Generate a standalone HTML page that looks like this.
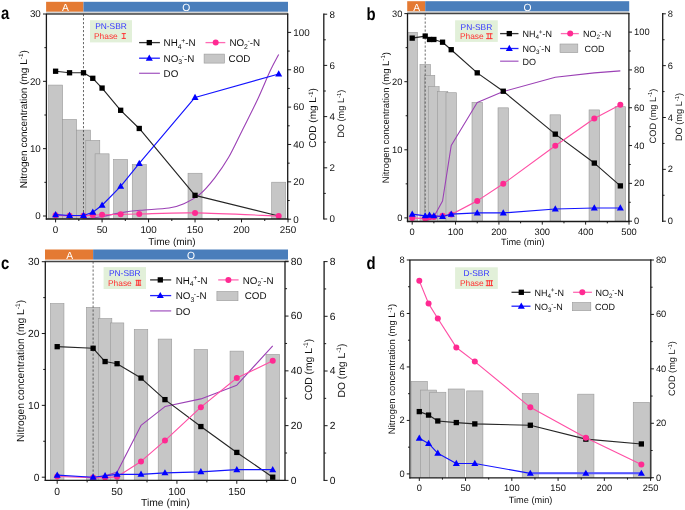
<!DOCTYPE html>
<html><head><meta charset="utf-8"><style>
html,body{margin:0;padding:0;background:#fff;width:685px;height:510px;overflow:hidden}
svg{display:block;will-change:transform;font-family:'Liberation Sans', sans-serif;text-rendering:geometricPrecision}
</style></head><body>
<svg width="685" height="510" viewBox="0 0 685 510">
<rect width="685" height="510" fill="#fff"/>
<clipPath id="clipa"><rect x="46.4" y="14" width="241.3" height="205"/></clipPath>
<rect x="46.1" y="1.8" width="37.39" height="10" fill="#E47A33" stroke="none" stroke-width="0"/>
<rect x="83.49" y="1.8" width="204.51" height="10" fill="#4A7EBB" stroke="none" stroke-width="0"/>
<rect x="46.1" y="11.8" width="241.9" height="2.2" fill="#d4d4d4" stroke="none" stroke-width="0"/>
<text x="65.34" y="11" font-size="10.3" text-anchor="middle" fill="#fff">A</text>
<text x="186.14" y="11" font-size="10.3" text-anchor="middle" fill="#fff">O</text>
<g clip-path="url(#clipa)">
<rect x="48.6" y="85.08" width="14" height="135.92" fill="#C6C6C6" stroke="#999999" stroke-width="0.6"/>
<rect x="62.54" y="119.45" width="14" height="101.55" fill="#C6C6C6" stroke="#999999" stroke-width="0.6"/>
<rect x="76.49" y="130.1" width="14" height="90.9" fill="#C6C6C6" stroke="#999999" stroke-width="0.6"/>
<rect x="85.78" y="140.37" width="14" height="80.63" fill="#C6C6C6" stroke="#999999" stroke-width="0.6"/>
<rect x="95.08" y="153.82" width="14" height="67.18" fill="#C6C6C6" stroke="#999999" stroke-width="0.6"/>
<rect x="113.67" y="159.42" width="14" height="61.58" fill="#C6C6C6" stroke="#999999" stroke-width="0.6"/>
<rect x="132.26" y="164.65" width="14" height="56.35" fill="#C6C6C6" stroke="#999999" stroke-width="0.6"/>
<rect x="188.04" y="173.25" width="14" height="47.75" fill="#C6C6C6" stroke="#999999" stroke-width="0.6"/>
<rect x="271.7" y="182.21" width="14" height="38.79" fill="#C6C6C6" stroke="#999999" stroke-width="0.6"/>
<line x1="83.49" y1="14" x2="83.49" y2="219" stroke="#444" stroke-width="0.8" stroke-dasharray="2.2,1.8"/>
<path d="M83.49 219 C86.59 218.57 95.73 217.51 102.08 216.44 C108.43 215.37 115.25 213.62 121.6 212.6 C127.95 211.58 132.29 211.06 140.19 210.3 C148.1 209.53 161.73 209.1 169.01 207.99 C176.29 206.88 178.77 205.9 183.88 203.64 C189 201.38 194.58 198.69 199.69 194.42 C204.8 190.16 209.76 184.18 214.56 178.04 C219.36 171.9 223.86 165.58 228.51 157.56 C233.15 149.54 237.65 139.51 242.45 129.91 C247.25 120.31 252.68 109.86 257.32 99.96 C261.97 90.06 266.77 78.11 270.34 70.52 C273.9 62.93 277.31 57.08 278.7 54.39" fill="none" stroke="#9B40B5" stroke-width="1.1"/>
<polyline points="55.6,71.23 69.54,72.78 83.49,72.78 92.78,78.3 102.08,88.07 120.67,110.29 139.26,128.47 195.04,195.33 278.7,216" fill="none" stroke="#262626" stroke-width="1.15" stroke-linejoin="round"/>
<rect x="52.95" y="68.58" width="5.3" height="5.3" fill="#000000" stroke="none" stroke-width="0"/>
<rect x="66.89" y="70.13" width="5.3" height="5.3" fill="#000000" stroke="none" stroke-width="0"/>
<rect x="80.84" y="70.13" width="5.3" height="5.3" fill="#000000" stroke="none" stroke-width="0"/>
<rect x="90.13" y="75.65" width="5.3" height="5.3" fill="#000000" stroke="none" stroke-width="0"/>
<rect x="99.43" y="85.42" width="5.3" height="5.3" fill="#000000" stroke="none" stroke-width="0"/>
<rect x="118.02" y="107.64" width="5.3" height="5.3" fill="#000000" stroke="none" stroke-width="0"/>
<rect x="136.61" y="125.82" width="5.3" height="5.3" fill="#000000" stroke="none" stroke-width="0"/>
<rect x="192.39" y="192.68" width="5.3" height="5.3" fill="#000000" stroke="none" stroke-width="0"/>
<path d="M55.6 215.33 C57.92 215.38 64.9 215.61 69.54 215.66 C74.19 215.72 79.61 215.75 83.49 215.66 C87.36 215.57 89.69 215.27 92.78 215.12 C95.88 214.98 97.43 214.92 102.08 214.79 C106.73 214.65 114.47 214.45 120.67 214.32 C126.87 214.18 126.87 214.22 139.26 213.98 C151.66 213.74 171.8 212.57 195.04 212.9 C218.28 213.24 264.76 215.48 278.7 216" fill="none" stroke="#FF4FA5" stroke-width="1.15"/>
<circle cx="55.6" cy="215.33" r="3" fill="#FF2A92"/>
<circle cx="69.54" cy="215.66" r="3" fill="#FF2A92"/>
<circle cx="83.49" cy="215.66" r="3" fill="#FF2A92"/>
<circle cx="92.78" cy="215.12" r="3" fill="#FF2A92"/>
<circle cx="102.08" cy="214.79" r="3" fill="#FF2A92"/>
<circle cx="120.67" cy="214.32" r="3" fill="#FF2A92"/>
<circle cx="139.26" cy="213.98" r="3" fill="#FF2A92"/>
<circle cx="195.04" cy="212.9" r="3" fill="#FF2A92"/>
<circle cx="278.7" cy="216" r="3" fill="#FF2A92"/>
<polyline points="55.6,214.65 69.54,215.46 83.49,215.46 92.78,212.3 102.08,205.23 120.67,186.37 139.26,163.48 195.04,97.49 278.7,73.93" fill="none" stroke="#1414FF" stroke-width="1.15" stroke-linejoin="round"/>
<path d="M55.6 210.93L59.1 217.13L52.1 217.13Z" fill="#0000FF"/>
<path d="M69.54 211.74L73.04 217.94L66.04 217.94Z" fill="#0000FF"/>
<path d="M83.49 211.74L86.99 217.94L79.99 217.94Z" fill="#0000FF"/>
<path d="M92.78 208.58L96.28 214.78L89.28 214.78Z" fill="#0000FF"/>
<path d="M102.08 201.51L105.58 207.71L98.58 207.71Z" fill="#0000FF"/>
<path d="M120.67 182.65L124.17 188.85L117.17 188.85Z" fill="#0000FF"/>
<path d="M139.26 159.76L142.76 165.96L135.76 165.96Z" fill="#0000FF"/>
<path d="M195.04 93.77L198.54 99.97L191.54 99.97Z" fill="#0000FF"/>
<path d="M278.7 70.21L282.2 76.41L275.2 76.41Z" fill="#0000FF"/>
</g>
<line x1="45.9" y1="14" x2="288.2" y2="14" stroke="#444" stroke-width="1.3"/>
<line x1="46.4" y1="14" x2="46.4" y2="219.6" stroke="#1a1a1a" stroke-width="1.3"/>
<line x1="45.8" y1="219" x2="288.3" y2="219" stroke="#1a1a1a" stroke-width="1.3"/>
<line x1="287.7" y1="13.4" x2="287.7" y2="219.6" stroke="#1a1a1a" stroke-width="1.3"/>
<line x1="55.6" y1="219" x2="55.6" y2="222.4" stroke="#1a1a1a" stroke-width="1"/>
<text x="55.6" y="233.1" font-size="9.8" text-anchor="middle" fill="#111">0</text>
<line x1="102.08" y1="219" x2="102.08" y2="222.4" stroke="#1a1a1a" stroke-width="1"/>
<text x="102.08" y="233.1" font-size="9.8" text-anchor="middle" fill="#111">50</text>
<line x1="148.56" y1="219" x2="148.56" y2="222.4" stroke="#1a1a1a" stroke-width="1"/>
<text x="148.56" y="233.1" font-size="9.8" text-anchor="middle" fill="#111">100</text>
<line x1="195.04" y1="219" x2="195.04" y2="222.4" stroke="#1a1a1a" stroke-width="1"/>
<text x="195.04" y="233.1" font-size="9.8" text-anchor="middle" fill="#111">150</text>
<line x1="241.52" y1="219" x2="241.52" y2="222.4" stroke="#1a1a1a" stroke-width="1"/>
<text x="241.52" y="233.1" font-size="9.8" text-anchor="middle" fill="#111">200</text>
<line x1="288" y1="219" x2="288" y2="222.4" stroke="#1a1a1a" stroke-width="1"/>
<text x="288" y="233.1" font-size="9.8" text-anchor="middle" fill="#111">250</text>
<line x1="78.84" y1="219" x2="78.84" y2="221" stroke="#1a1a1a" stroke-width="1"/>
<line x1="125.32" y1="219" x2="125.32" y2="221" stroke="#1a1a1a" stroke-width="1"/>
<line x1="171.8" y1="219" x2="171.8" y2="221" stroke="#1a1a1a" stroke-width="1"/>
<line x1="218.28" y1="219" x2="218.28" y2="221" stroke="#1a1a1a" stroke-width="1"/>
<line x1="264.76" y1="219" x2="264.76" y2="221" stroke="#1a1a1a" stroke-width="1"/>
<line x1="43" y1="216" x2="46.4" y2="216" stroke="#1a1a1a" stroke-width="1"/>
<text x="40.8" y="219.3" font-size="9.8" text-anchor="end" fill="#111">0</text>
<line x1="43" y1="148.67" x2="46.4" y2="148.67" stroke="#1a1a1a" stroke-width="1"/>
<text x="40.8" y="151.97" font-size="9.8" text-anchor="end" fill="#111">10</text>
<line x1="43" y1="81.33" x2="46.4" y2="81.33" stroke="#1a1a1a" stroke-width="1"/>
<text x="40.8" y="84.63" font-size="9.8" text-anchor="end" fill="#111">20</text>
<line x1="43" y1="14" x2="46.4" y2="14" stroke="#1a1a1a" stroke-width="1"/>
<text x="40.8" y="17.3" font-size="9.8" text-anchor="end" fill="#111">30</text>
<line x1="44.4" y1="182.33" x2="46.4" y2="182.33" stroke="#1a1a1a" stroke-width="1"/>
<line x1="44.4" y1="115" x2="46.4" y2="115" stroke="#1a1a1a" stroke-width="1"/>
<line x1="44.4" y1="47.67" x2="46.4" y2="47.67" stroke="#1a1a1a" stroke-width="1"/>
<line x1="287.7" y1="219.2" x2="291.1" y2="219.2" stroke="#1a1a1a" stroke-width="1"/>
<text x="293.3" y="222.5" font-size="9.8" text-anchor="start" fill="#111">0</text>
<line x1="287.7" y1="181.84" x2="291.1" y2="181.84" stroke="#1a1a1a" stroke-width="1"/>
<text x="293.3" y="185.14" font-size="9.8" text-anchor="start" fill="#111">20</text>
<line x1="287.7" y1="144.48" x2="291.1" y2="144.48" stroke="#1a1a1a" stroke-width="1"/>
<text x="293.3" y="147.78" font-size="9.8" text-anchor="start" fill="#111">40</text>
<line x1="287.7" y1="107.12" x2="291.1" y2="107.12" stroke="#1a1a1a" stroke-width="1"/>
<text x="293.3" y="110.42" font-size="9.8" text-anchor="start" fill="#111">60</text>
<line x1="287.7" y1="69.76" x2="291.1" y2="69.76" stroke="#1a1a1a" stroke-width="1"/>
<text x="293.3" y="73.06" font-size="9.8" text-anchor="start" fill="#111">80</text>
<line x1="287.7" y1="32.4" x2="291.1" y2="32.4" stroke="#1a1a1a" stroke-width="1"/>
<text x="293.3" y="35.7" font-size="9.8" text-anchor="start" fill="#111">100</text>
<line x1="287.7" y1="200.52" x2="289.7" y2="200.52" stroke="#1a1a1a" stroke-width="1"/>
<line x1="287.7" y1="163.16" x2="289.7" y2="163.16" stroke="#1a1a1a" stroke-width="1"/>
<line x1="287.7" y1="125.8" x2="289.7" y2="125.8" stroke="#1a1a1a" stroke-width="1"/>
<line x1="287.7" y1="88.44" x2="289.7" y2="88.44" stroke="#1a1a1a" stroke-width="1"/>
<line x1="287.7" y1="51.08" x2="289.7" y2="51.08" stroke="#1a1a1a" stroke-width="1"/>
<line x1="323.8" y1="13.4" x2="323.8" y2="219.6" stroke="#1a1a1a" stroke-width="1.3"/>
<line x1="323.8" y1="219" x2="327.2" y2="219" stroke="#1a1a1a" stroke-width="1"/>
<text x="329.4" y="222.3" font-size="9.8" text-anchor="start" fill="#111">0</text>
<line x1="323.8" y1="167.8" x2="327.2" y2="167.8" stroke="#1a1a1a" stroke-width="1"/>
<text x="329.4" y="171.1" font-size="9.8" text-anchor="start" fill="#111">2</text>
<line x1="323.8" y1="116.6" x2="327.2" y2="116.6" stroke="#1a1a1a" stroke-width="1"/>
<text x="329.4" y="119.9" font-size="9.8" text-anchor="start" fill="#111">4</text>
<line x1="323.8" y1="65.4" x2="327.2" y2="65.4" stroke="#1a1a1a" stroke-width="1"/>
<text x="329.4" y="68.7" font-size="9.8" text-anchor="start" fill="#111">6</text>
<line x1="323.8" y1="14.2" x2="327.2" y2="14.2" stroke="#1a1a1a" stroke-width="1"/>
<text x="329.4" y="17.5" font-size="9.8" text-anchor="start" fill="#111">8</text>
<line x1="323.8" y1="193.4" x2="325.8" y2="193.4" stroke="#1a1a1a" stroke-width="1"/>
<line x1="323.8" y1="142.2" x2="325.8" y2="142.2" stroke="#1a1a1a" stroke-width="1"/>
<line x1="323.8" y1="91" x2="325.8" y2="91" stroke="#1a1a1a" stroke-width="1"/>
<line x1="323.8" y1="39.8" x2="325.8" y2="39.8" stroke="#1a1a1a" stroke-width="1"/>
<text x="344.2" y="113.7" font-size="9.2" text-anchor="middle" fill="#111" transform="rotate(-90 344.2 113.7)">DO (mg L<tspan font-size="5.89" dy="-3.5">-1</tspan><tspan dy="3.5">)</tspan></text>
<text x="27.2" y="119.2" font-size="10" text-anchor="middle" fill="#111" transform="rotate(-90 27.2 119.2)">Nitrogen concentration (mg L<tspan font-size="6.4" dy="-3.8">-1</tspan><tspan dy="3.8">)</tspan></text>
<text x="316.5" y="117.9" font-size="10" text-anchor="middle" fill="#111" transform="rotate(-90 316.5 117.9)">COD (mg L<tspan font-size="6.4" dy="-3.8">-1</tspan><tspan dy="3.8">)</tspan></text>
<text x="172" y="244.8" font-size="10" text-anchor="middle" fill="#111">Time (min)</text>
<text transform="translate(0.9 19.3) scale(0.93 1.1)" x="0" y="0" font-size="16" font-weight="bold" fill="#000">a</text>
<rect x="90" y="20.2" width="42" height="22.2" fill="#E2F0D9" stroke="none" stroke-width="0"/>
<text x="111" y="29.3" font-size="8.4" text-anchor="middle" fill="#3333FF">PN-SBR</text>
<text x="94" y="38.9" font-size="8.4" text-anchor="start" fill="#FF3333">Phase</text>
<g stroke="#FF3333" stroke-width="0.95" fill="none">
<line x1="121.7" y1="33.58" x2="125.9" y2="33.58"/>
<line x1="121.7" y1="38.42" x2="125.9" y2="38.42"/>
<line x1="123.8" y1="33.1" x2="123.8" y2="38.9"/>
</g>
<line x1="139.1" y1="42.6" x2="159.9" y2="42.6" stroke="#333" stroke-width="1.3"/>
<rect x="146.65" y="39.95" width="5.3" height="5.3" fill="#000000" stroke="none" stroke-width="0"/>
<text x="163.6" y="46.3" font-size="9.8" text-anchor="start" fill="#111">NH<tspan font-size="6.86" dy="2.35">4</tspan><tspan font-size="6.86" dx="-0.39" dy="-6.08">+</tspan><tspan dy="3.72">-N</tspan></text>
<line x1="139.1" y1="58.2" x2="159.9" y2="58.2" stroke="#2020FF" stroke-width="1.3"/>
<path d="M149.3 54.48L152.8 60.68L145.8 60.68Z" fill="#0000FF"/>
<text x="163.6" y="61.9" font-size="9.8" text-anchor="start" fill="#111">NO<tspan font-size="6.86" dy="2.35">3</tspan><tspan font-size="6.86" dx="-0.39" dy="-6.08">-</tspan><tspan dy="3.72">-N</tspan></text>
<line x1="139.1" y1="73.3" x2="159.9" y2="73.3" stroke="#A860C4" stroke-width="1.3"/>
<text x="163.6" y="77" font-size="9.8" text-anchor="start" fill="#111">DO</text>
<line x1="205.5" y1="42.6" x2="225.3" y2="42.6" stroke="#FF6AB4" stroke-width="1.3"/>
<circle cx="215.7" cy="42.6" r="3" fill="#FF2A92"/>
<text x="229.4" y="46.3" font-size="9.8" text-anchor="start" fill="#111">NO<tspan font-size="6.86" dy="2.35">2</tspan><tspan font-size="6.86" dx="-0.39" dy="-6.08">-</tspan><tspan dy="3.72">-N</tspan></text>
<rect x="204.1" y="54.1" width="20.4" height="9" fill="#C6C6C6" stroke="#999999" stroke-width="0.6"/>
<text x="228.6" y="61.9" font-size="9.8" text-anchor="start" fill="#111">COD</text>
<clipPath id="clipb"><rect x="407.5" y="13.5" width="221.4" height="208"/></clipPath>
<rect x="407.2" y="1.2" width="18.01" height="10.3" fill="#E47A33" stroke="none" stroke-width="0"/>
<rect x="425.21" y="1.2" width="203.99" height="10.3" fill="#4A7EBB" stroke="none" stroke-width="0"/>
<rect x="407.2" y="11.5" width="222" height="2" fill="#d4d4d4" stroke="none" stroke-width="0"/>
<text x="416.75" y="10.7" font-size="10.3" text-anchor="middle" fill="#fff">A</text>
<text x="527.6" y="10.7" font-size="10.3" text-anchor="middle" fill="#fff">O</text>
<g clip-path="url(#clipb)">
<rect x="406.95" y="32.38" width="10.5" height="191.12" fill="#C6C6C6" stroke="#999999" stroke-width="0.6"/>
<rect x="419.96" y="64.53" width="10.5" height="158.97" fill="#C6C6C6" stroke="#999999" stroke-width="0.6"/>
<rect x="424.29" y="75.31" width="10.5" height="148.19" fill="#C6C6C6" stroke="#999999" stroke-width="0.6"/>
<rect x="428.63" y="86.66" width="10.5" height="136.84" fill="#C6C6C6" stroke="#999999" stroke-width="0.6"/>
<rect x="437.3" y="91.57" width="10.5" height="131.93" fill="#C6C6C6" stroke="#999999" stroke-width="0.6"/>
<rect x="445.97" y="92.71" width="10.5" height="130.79" fill="#C6C6C6" stroke="#999999" stroke-width="0.6"/>
<rect x="471.99" y="102.35" width="10.5" height="121.15" fill="#C6C6C6" stroke="#999999" stroke-width="0.6"/>
<rect x="498.01" y="107.83" width="10.5" height="115.67" fill="#C6C6C6" stroke="#999999" stroke-width="0.6"/>
<rect x="550.04" y="114.83" width="10.5" height="108.67" fill="#C6C6C6" stroke="#999999" stroke-width="0.6"/>
<rect x="589.06" y="109.91" width="10.5" height="113.59" fill="#C6C6C6" stroke="#999999" stroke-width="0.6"/>
<rect x="615.08" y="106.7" width="10.5" height="116.8" fill="#C6C6C6" stroke="#999999" stroke-width="0.6"/>
<line x1="425.21" y1="13.5" x2="425.21" y2="221.5" stroke="#444" stroke-width="0.8" stroke-dasharray="2.2,1.8"/>
<polyline points="425.21,221.2 433.88,216.79 442.55,200.98 451.22,145.5 477.24,102.46 503.26,91.57 555.29,77.32 594.31,72.91 620.33,70.84" fill="none" stroke="#9B40B5" stroke-width="1.1" stroke-linejoin="round"/>
<polyline points="412.2,38.12 425.21,36.07 429.54,39.48 433.88,39.48 442.55,42.2 451.22,49.69 477.24,72.85 503.26,91.23 555.29,134.14 594.31,163.08 620.33,185.89" fill="none" stroke="#262626" stroke-width="1.15" stroke-linejoin="round"/>
<rect x="409.55" y="35.47" width="5.3" height="5.3" fill="#000000" stroke="none" stroke-width="0"/>
<rect x="422.56" y="33.42" width="5.3" height="5.3" fill="#000000" stroke="none" stroke-width="0"/>
<rect x="426.89" y="36.83" width="5.3" height="5.3" fill="#000000" stroke="none" stroke-width="0"/>
<rect x="431.23" y="36.83" width="5.3" height="5.3" fill="#000000" stroke="none" stroke-width="0"/>
<rect x="439.9" y="39.55" width="5.3" height="5.3" fill="#000000" stroke="none" stroke-width="0"/>
<rect x="448.57" y="47.04" width="5.3" height="5.3" fill="#000000" stroke="none" stroke-width="0"/>
<rect x="474.59" y="70.2" width="5.3" height="5.3" fill="#000000" stroke="none" stroke-width="0"/>
<rect x="500.61" y="88.58" width="5.3" height="5.3" fill="#000000" stroke="none" stroke-width="0"/>
<rect x="552.64" y="131.49" width="5.3" height="5.3" fill="#000000" stroke="none" stroke-width="0"/>
<rect x="591.66" y="160.43" width="5.3" height="5.3" fill="#000000" stroke="none" stroke-width="0"/>
<rect x="617.68" y="183.24" width="5.3" height="5.3" fill="#000000" stroke="none" stroke-width="0"/>
<polyline points="412.2,217.9 425.21,218.58 429.54,217.22 433.88,217.01 442.55,215.86 451.22,214.5 477.24,200.88 503.26,183.85 555.29,145.71 594.31,118.47 620.33,104.85" fill="none" stroke="#FF4FA5" stroke-width="1.15" stroke-linejoin="round"/>
<circle cx="412.2" cy="217.9" r="3" fill="#FF2A92"/>
<circle cx="425.21" cy="218.58" r="3" fill="#FF2A92"/>
<circle cx="429.54" cy="217.22" r="3" fill="#FF2A92"/>
<circle cx="433.88" cy="217.01" r="3" fill="#FF2A92"/>
<circle cx="442.55" cy="215.86" r="3" fill="#FF2A92"/>
<circle cx="451.22" cy="214.5" r="3" fill="#FF2A92"/>
<circle cx="477.24" cy="200.88" r="3" fill="#FF2A92"/>
<circle cx="503.26" cy="183.85" r="3" fill="#FF2A92"/>
<circle cx="555.29" cy="145.71" r="3" fill="#FF2A92"/>
<circle cx="594.31" cy="118.47" r="3" fill="#FF2A92"/>
<circle cx="620.33" cy="104.85" r="3" fill="#FF2A92"/>
<polyline points="412.2,214.15 425.21,215.86 429.54,215.18 433.88,215.86 442.55,216.54 451.22,214.15 477.24,212.93 503.26,212.93 555.29,209.05 594.31,208.03 620.33,208.03" fill="none" stroke="#1414FF" stroke-width="1.15" stroke-linejoin="round"/>
<path d="M412.2 210.43L415.7 216.63L408.7 216.63Z" fill="#0000FF"/>
<path d="M425.21 212.14L428.71 218.34L421.71 218.34Z" fill="#0000FF"/>
<path d="M429.54 211.46L433.04 217.66L426.04 217.66Z" fill="#0000FF"/>
<path d="M433.88 212.14L437.38 218.34L430.38 218.34Z" fill="#0000FF"/>
<path d="M442.55 212.82L446.05 219.02L439.05 219.02Z" fill="#0000FF"/>
<path d="M451.22 210.43L454.72 216.63L447.72 216.63Z" fill="#0000FF"/>
<path d="M477.24 209.21L480.74 215.41L473.74 215.41Z" fill="#0000FF"/>
<path d="M503.26 209.21L506.76 215.41L499.76 215.41Z" fill="#0000FF"/>
<path d="M555.29 205.33L558.79 211.53L551.79 211.53Z" fill="#0000FF"/>
<path d="M594.31 204.31L597.81 210.51L590.81 210.51Z" fill="#0000FF"/>
<path d="M620.33 204.31L623.83 210.51L616.83 210.51Z" fill="#0000FF"/>
</g>
<line x1="407" y1="13.5" x2="629.4" y2="13.5" stroke="#444" stroke-width="1.3"/>
<line x1="407.5" y1="13.5" x2="407.5" y2="222.1" stroke="#1a1a1a" stroke-width="1.3"/>
<line x1="406.9" y1="221.5" x2="629.5" y2="221.5" stroke="#1a1a1a" stroke-width="1.3"/>
<line x1="628.9" y1="12.9" x2="628.9" y2="222.1" stroke="#1a1a1a" stroke-width="1.3"/>
<line x1="412.2" y1="221.5" x2="412.2" y2="224.63" stroke="#1a1a1a" stroke-width="1"/>
<text x="412.2" y="234.8" font-size="9.3" text-anchor="middle" fill="#111">0</text>
<line x1="455.56" y1="221.5" x2="455.56" y2="224.63" stroke="#1a1a1a" stroke-width="1"/>
<text x="455.56" y="234.8" font-size="9.3" text-anchor="middle" fill="#111">100</text>
<line x1="498.92" y1="221.5" x2="498.92" y2="224.63" stroke="#1a1a1a" stroke-width="1"/>
<text x="498.92" y="234.8" font-size="9.3" text-anchor="middle" fill="#111">200</text>
<line x1="542.28" y1="221.5" x2="542.28" y2="224.63" stroke="#1a1a1a" stroke-width="1"/>
<text x="542.28" y="234.8" font-size="9.3" text-anchor="middle" fill="#111">300</text>
<line x1="585.64" y1="221.5" x2="585.64" y2="224.63" stroke="#1a1a1a" stroke-width="1"/>
<text x="585.64" y="234.8" font-size="9.3" text-anchor="middle" fill="#111">400</text>
<line x1="629" y1="221.5" x2="629" y2="224.63" stroke="#1a1a1a" stroke-width="1"/>
<text x="629" y="234.8" font-size="9.3" text-anchor="middle" fill="#111">500</text>
<line x1="433.88" y1="221.5" x2="433.88" y2="223.34" stroke="#1a1a1a" stroke-width="1"/>
<line x1="477.24" y1="221.5" x2="477.24" y2="223.34" stroke="#1a1a1a" stroke-width="1"/>
<line x1="520.6" y1="221.5" x2="520.6" y2="223.34" stroke="#1a1a1a" stroke-width="1"/>
<line x1="563.96" y1="221.5" x2="563.96" y2="223.34" stroke="#1a1a1a" stroke-width="1"/>
<line x1="607.32" y1="221.5" x2="607.32" y2="223.34" stroke="#1a1a1a" stroke-width="1"/>
<line x1="404.37" y1="217.9" x2="407.5" y2="217.9" stroke="#1a1a1a" stroke-width="1"/>
<text x="402.35" y="220.94" font-size="9.3" text-anchor="end" fill="#111">0</text>
<line x1="404.37" y1="149.8" x2="407.5" y2="149.8" stroke="#1a1a1a" stroke-width="1"/>
<text x="402.35" y="152.84" font-size="9.3" text-anchor="end" fill="#111">10</text>
<line x1="404.37" y1="81.7" x2="407.5" y2="81.7" stroke="#1a1a1a" stroke-width="1"/>
<text x="402.35" y="84.74" font-size="9.3" text-anchor="end" fill="#111">20</text>
<line x1="404.37" y1="13.6" x2="407.5" y2="13.6" stroke="#1a1a1a" stroke-width="1"/>
<text x="402.35" y="16.64" font-size="9.3" text-anchor="end" fill="#111">30</text>
<line x1="405.66" y1="183.85" x2="407.5" y2="183.85" stroke="#1a1a1a" stroke-width="1"/>
<line x1="405.66" y1="115.75" x2="407.5" y2="115.75" stroke="#1a1a1a" stroke-width="1"/>
<line x1="405.66" y1="47.65" x2="407.5" y2="47.65" stroke="#1a1a1a" stroke-width="1"/>
<line x1="628.9" y1="221.2" x2="632.03" y2="221.2" stroke="#1a1a1a" stroke-width="1"/>
<text x="634.05" y="224.24" font-size="9.3" text-anchor="start" fill="#111">0</text>
<line x1="628.9" y1="183.38" x2="632.03" y2="183.38" stroke="#1a1a1a" stroke-width="1"/>
<text x="634.05" y="186.42" font-size="9.3" text-anchor="start" fill="#111">20</text>
<line x1="628.9" y1="145.56" x2="632.03" y2="145.56" stroke="#1a1a1a" stroke-width="1"/>
<text x="634.05" y="148.6" font-size="9.3" text-anchor="start" fill="#111">40</text>
<line x1="628.9" y1="107.74" x2="632.03" y2="107.74" stroke="#1a1a1a" stroke-width="1"/>
<text x="634.05" y="110.78" font-size="9.3" text-anchor="start" fill="#111">60</text>
<line x1="628.9" y1="69.92" x2="632.03" y2="69.92" stroke="#1a1a1a" stroke-width="1"/>
<text x="634.05" y="72.96" font-size="9.3" text-anchor="start" fill="#111">80</text>
<line x1="628.9" y1="32.1" x2="632.03" y2="32.1" stroke="#1a1a1a" stroke-width="1"/>
<text x="634.05" y="35.14" font-size="9.3" text-anchor="start" fill="#111">100</text>
<line x1="628.9" y1="202.29" x2="630.74" y2="202.29" stroke="#1a1a1a" stroke-width="1"/>
<line x1="628.9" y1="164.47" x2="630.74" y2="164.47" stroke="#1a1a1a" stroke-width="1"/>
<line x1="628.9" y1="126.65" x2="630.74" y2="126.65" stroke="#1a1a1a" stroke-width="1"/>
<line x1="628.9" y1="88.83" x2="630.74" y2="88.83" stroke="#1a1a1a" stroke-width="1"/>
<line x1="628.9" y1="51.01" x2="630.74" y2="51.01" stroke="#1a1a1a" stroke-width="1"/>
<line x1="662.7" y1="12.9" x2="662.7" y2="222.1" stroke="#1a1a1a" stroke-width="1.3"/>
<line x1="662.7" y1="221.2" x2="665.83" y2="221.2" stroke="#1a1a1a" stroke-width="1"/>
<text x="667.85" y="224.24" font-size="9.3" text-anchor="start" fill="#111">0</text>
<line x1="662.7" y1="169.35" x2="665.83" y2="169.35" stroke="#1a1a1a" stroke-width="1"/>
<text x="667.85" y="172.39" font-size="9.3" text-anchor="start" fill="#111">2</text>
<line x1="662.7" y1="117.5" x2="665.83" y2="117.5" stroke="#1a1a1a" stroke-width="1"/>
<text x="667.85" y="120.54" font-size="9.3" text-anchor="start" fill="#111">4</text>
<line x1="662.7" y1="65.65" x2="665.83" y2="65.65" stroke="#1a1a1a" stroke-width="1"/>
<text x="667.85" y="68.69" font-size="9.3" text-anchor="start" fill="#111">6</text>
<line x1="662.7" y1="13.8" x2="665.83" y2="13.8" stroke="#1a1a1a" stroke-width="1"/>
<text x="667.85" y="16.84" font-size="9.3" text-anchor="start" fill="#111">8</text>
<line x1="662.7" y1="195.27" x2="664.54" y2="195.27" stroke="#1a1a1a" stroke-width="1"/>
<line x1="662.7" y1="143.43" x2="664.54" y2="143.43" stroke="#1a1a1a" stroke-width="1"/>
<line x1="662.7" y1="91.57" x2="664.54" y2="91.57" stroke="#1a1a1a" stroke-width="1"/>
<line x1="662.7" y1="39.73" x2="664.54" y2="39.73" stroke="#1a1a1a" stroke-width="1"/>
<text x="682" y="117" font-size="9.2" text-anchor="middle" fill="#111" transform="rotate(-90 682 117)">DO (mg L<tspan font-size="5.89" dy="-3.5">-1</tspan><tspan dy="3.5">)</tspan></text>
<text x="388.8" y="117.6" font-size="9.5" text-anchor="middle" fill="#111" transform="rotate(-90 388.8 117.6)">Nitrogen concentration (mg L<tspan font-size="6.08" dy="-3.61">-1</tspan><tspan dy="3.61">)</tspan></text>
<text x="655.6" y="116" font-size="9.2" text-anchor="middle" fill="#111" transform="rotate(-90 655.6 116)">COD (mg L<tspan font-size="5.89" dy="-3.5">-1</tspan><tspan dy="3.5">)</tspan></text>
<text x="522.9" y="244.9" font-size="9.2" text-anchor="middle" fill="#111">Time (min)</text>
<text transform="translate(366.4 19.5) scale(0.93 1.1)" x="0" y="0" font-size="16" font-weight="bold" fill="#000">b</text>
<rect x="455.1" y="20.3" width="42.7" height="21.6" fill="#E2F0D9" stroke="none" stroke-width="0"/>
<text x="476.45" y="29.6" font-size="8.4" text-anchor="middle" fill="#3333FF">PN-SBR</text>
<text x="459.9" y="39.1" font-size="8.4" text-anchor="start" fill="#FF3333">Phase</text>
<g stroke="#FF3333" stroke-width="0.95" fill="none">
<line x1="486.1" y1="33.78" x2="492.6" y2="33.78"/>
<line x1="486.1" y1="38.62" x2="492.6" y2="38.62"/>
<line x1="488.05" y1="33.3" x2="488.05" y2="39.1"/>
<line x1="490.65" y1="33.3" x2="490.65" y2="39.1"/>
</g>
<line x1="500.1" y1="33.6" x2="518.5" y2="33.6" stroke="#333" stroke-width="1.3"/>
<rect x="506.65" y="30.95" width="5.3" height="5.3" fill="#000000" stroke="none" stroke-width="0"/>
<text x="522.6" y="37" font-size="9" text-anchor="start" fill="#111">NH<tspan font-size="6.3" dy="2.16">4</tspan><tspan font-size="6.3" dx="-0.36" dy="-5.58">+</tspan><tspan dy="3.42">-N</tspan></text>
<line x1="500.1" y1="48.5" x2="518.5" y2="48.5" stroke="#2020FF" stroke-width="1.3"/>
<path d="M509.3 44.78L512.8 50.98L505.8 50.98Z" fill="#0000FF"/>
<text x="522.6" y="51.9" font-size="9" text-anchor="start" fill="#111">NO<tspan font-size="6.3" dy="2.16">3</tspan><tspan font-size="6.3" dx="-0.36" dy="-5.58">-</tspan><tspan dy="3.42">-N</tspan></text>
<line x1="500.1" y1="61.2" x2="518.5" y2="61.2" stroke="#A860C4" stroke-width="1.3"/>
<text x="522.6" y="64.6" font-size="9" text-anchor="start" fill="#111">DO</text>
<line x1="560.8" y1="33.6" x2="578.8" y2="33.6" stroke="#FF6AB4" stroke-width="1.3"/>
<circle cx="570.2" cy="33.6" r="3" fill="#FF2A92"/>
<text x="582.9" y="37" font-size="9" text-anchor="start" fill="#111">NO<tspan font-size="6.3" dy="2.16">2</tspan><tspan font-size="6.3" dx="-0.36" dy="-5.58">-</tspan><tspan dy="3.42">-N</tspan></text>
<rect x="560" y="44" width="17.8" height="8.6" fill="#C6C6C6" stroke="#999999" stroke-width="0.6"/>
<text x="584.5" y="51.9" font-size="9" text-anchor="start" fill="#111">COD</text>
<clipPath id="clipc"><rect x="45.3" y="261.5" width="239.7" height="218.8"/></clipPath>
<rect x="45" y="249.5" width="48.12" height="10.1" fill="#E47A33" stroke="none" stroke-width="0"/>
<rect x="93.12" y="249.5" width="194.88" height="10.1" fill="#4A7EBB" stroke="none" stroke-width="0"/>
<text x="69.61" y="258.8" font-size="10.3" text-anchor="middle" fill="#fff">A</text>
<text x="190.96" y="258.8" font-size="10.3" text-anchor="middle" fill="#fff">O</text>
<g clip-path="url(#clipc)">
<rect x="50.45" y="303.48" width="13.5" height="178.82" fill="#C6C6C6" stroke="#999999" stroke-width="0.6"/>
<rect x="86.37" y="307.31" width="13.5" height="174.99" fill="#C6C6C6" stroke="#999999" stroke-width="0.6"/>
<rect x="98.34" y="318.54" width="13.5" height="163.76" fill="#C6C6C6" stroke="#999999" stroke-width="0.6"/>
<rect x="110.32" y="322.92" width="13.5" height="159.38" fill="#C6C6C6" stroke="#999999" stroke-width="0.6"/>
<rect x="134.26" y="329.49" width="13.5" height="152.81" fill="#C6C6C6" stroke="#999999" stroke-width="0.6"/>
<rect x="158.21" y="339.08" width="13.5" height="143.22" fill="#C6C6C6" stroke="#999999" stroke-width="0.6"/>
<rect x="194.13" y="349.49" width="13.5" height="132.81" fill="#C6C6C6" stroke="#999999" stroke-width="0.6"/>
<rect x="230.05" y="351.13" width="13.5" height="131.17" fill="#C6C6C6" stroke="#999999" stroke-width="0.6"/>
<rect x="265.97" y="354.42" width="13.5" height="127.88" fill="#C6C6C6" stroke="#999999" stroke-width="0.6"/>
<line x1="93.12" y1="261.5" x2="93.12" y2="480.3" stroke="#444" stroke-width="0.8" stroke-dasharray="2.2,1.8"/>
<polyline points="93.12,479.03 117.07,472.19 141.01,425.43 164.96,406.56 200.88,398.9 236.8,385.22 272.72,345.84" fill="none" stroke="#9B40B5" stroke-width="1.1" stroke-linejoin="round"/>
<polyline points="57.2,346.68 93.12,348.26 105.09,361.55 117.07,363.7 141.01,378.07 164.96,399.62 200.88,426.56 236.8,452.42 272.72,477.2" fill="none" stroke="#262626" stroke-width="1.15" stroke-linejoin="round"/>
<rect x="54.55" y="344.03" width="5.3" height="5.3" fill="#000000" stroke="none" stroke-width="0"/>
<rect x="90.47" y="345.61" width="5.3" height="5.3" fill="#000000" stroke="none" stroke-width="0"/>
<rect x="102.44" y="358.9" width="5.3" height="5.3" fill="#000000" stroke="none" stroke-width="0"/>
<rect x="114.42" y="361.05" width="5.3" height="5.3" fill="#000000" stroke="none" stroke-width="0"/>
<rect x="138.36" y="375.42" width="5.3" height="5.3" fill="#000000" stroke="none" stroke-width="0"/>
<rect x="162.31" y="396.97" width="5.3" height="5.3" fill="#000000" stroke="none" stroke-width="0"/>
<rect x="198.23" y="423.91" width="5.3" height="5.3" fill="#000000" stroke="none" stroke-width="0"/>
<rect x="234.15" y="449.77" width="5.3" height="5.3" fill="#000000" stroke="none" stroke-width="0"/>
<rect x="270.07" y="474.55" width="5.3" height="5.3" fill="#000000" stroke="none" stroke-width="0"/>
<polyline points="57.2,476.48 93.12,477.56 105.09,477.56 117.07,476.84 141.01,461.4 164.96,440.56 200.88,407.16 236.8,378.07 272.72,360.83" fill="none" stroke="#FF4FA5" stroke-width="1.15" stroke-linejoin="round"/>
<circle cx="57.2" cy="476.48" r="3" fill="#FF2A92"/>
<circle cx="93.12" cy="477.56" r="3" fill="#FF2A92"/>
<circle cx="105.09" cy="477.56" r="3" fill="#FF2A92"/>
<circle cx="117.07" cy="476.84" r="3" fill="#FF2A92"/>
<circle cx="141.01" cy="461.4" r="3" fill="#FF2A92"/>
<circle cx="164.96" cy="440.56" r="3" fill="#FF2A92"/>
<circle cx="200.88" cy="407.16" r="3" fill="#FF2A92"/>
<circle cx="236.8" cy="378.07" r="3" fill="#FF2A92"/>
<circle cx="272.72" cy="360.83" r="3" fill="#FF2A92"/>
<polyline points="57.2,475.19 93.12,477.2 105.09,475.76 117.07,474.33 141.01,474.33 164.96,472.89 200.88,471.81 236.8,469.66 272.72,469.66" fill="none" stroke="#1414FF" stroke-width="1.15" stroke-linejoin="round"/>
<path d="M57.2 471.47L60.7 477.67L53.7 477.67Z" fill="#0000FF"/>
<path d="M93.12 473.48L96.62 479.68L89.62 479.68Z" fill="#0000FF"/>
<path d="M105.09 472.04L108.59 478.24L101.59 478.24Z" fill="#0000FF"/>
<path d="M117.07 470.61L120.57 476.81L113.57 476.81Z" fill="#0000FF"/>
<path d="M141.01 470.61L144.51 476.81L137.51 476.81Z" fill="#0000FF"/>
<path d="M164.96 469.17L168.46 475.37L161.46 475.37Z" fill="#0000FF"/>
<path d="M200.88 468.09L204.38 474.29L197.38 474.29Z" fill="#0000FF"/>
<path d="M236.8 465.94L240.3 472.14L233.3 472.14Z" fill="#0000FF"/>
<path d="M272.72 465.94L276.22 472.14L269.22 472.14Z" fill="#0000FF"/>
</g>
<line x1="44.8" y1="261.5" x2="288.5" y2="261.5" stroke="#444" stroke-width="1.3"/>
<line x1="45.3" y1="261.5" x2="45.3" y2="480.9" stroke="#1a1a1a" stroke-width="1.3"/>
<line x1="44.7" y1="480.3" x2="285.6" y2="480.3" stroke="#1a1a1a" stroke-width="1.3"/>
<line x1="285" y1="260.9" x2="285" y2="480.9" stroke="#1a1a1a" stroke-width="1.3"/>
<line x1="57.2" y1="480.3" x2="57.2" y2="483.8" stroke="#1a1a1a" stroke-width="1"/>
<text x="57.2" y="494.6" font-size="10.3" text-anchor="middle" fill="#111">0</text>
<line x1="117.07" y1="480.3" x2="117.07" y2="483.8" stroke="#1a1a1a" stroke-width="1"/>
<text x="117.07" y="494.6" font-size="10.3" text-anchor="middle" fill="#111">50</text>
<line x1="176.93" y1="480.3" x2="176.93" y2="483.8" stroke="#1a1a1a" stroke-width="1"/>
<text x="176.93" y="494.6" font-size="10.3" text-anchor="middle" fill="#111">100</text>
<line x1="236.8" y1="480.3" x2="236.8" y2="483.8" stroke="#1a1a1a" stroke-width="1"/>
<text x="236.8" y="494.6" font-size="10.3" text-anchor="middle" fill="#111">150</text>
<line x1="87.13" y1="480.3" x2="87.13" y2="482.36" stroke="#1a1a1a" stroke-width="1"/>
<line x1="147" y1="480.3" x2="147" y2="482.36" stroke="#1a1a1a" stroke-width="1"/>
<line x1="206.87" y1="480.3" x2="206.87" y2="482.36" stroke="#1a1a1a" stroke-width="1"/>
<line x1="266.73" y1="480.3" x2="266.73" y2="482.36" stroke="#1a1a1a" stroke-width="1"/>
<line x1="41.8" y1="477.2" x2="45.3" y2="477.2" stroke="#1a1a1a" stroke-width="1"/>
<text x="39.53" y="480.6" font-size="10.3" text-anchor="end" fill="#111">0</text>
<line x1="41.8" y1="405.37" x2="45.3" y2="405.37" stroke="#1a1a1a" stroke-width="1"/>
<text x="39.53" y="408.77" font-size="10.3" text-anchor="end" fill="#111">10</text>
<line x1="41.8" y1="333.53" x2="45.3" y2="333.53" stroke="#1a1a1a" stroke-width="1"/>
<text x="39.53" y="336.93" font-size="10.3" text-anchor="end" fill="#111">20</text>
<line x1="41.8" y1="261.7" x2="45.3" y2="261.7" stroke="#1a1a1a" stroke-width="1"/>
<text x="39.53" y="265.1" font-size="10.3" text-anchor="end" fill="#111">30</text>
<line x1="43.24" y1="441.28" x2="45.3" y2="441.28" stroke="#1a1a1a" stroke-width="1"/>
<line x1="43.24" y1="369.45" x2="45.3" y2="369.45" stroke="#1a1a1a" stroke-width="1"/>
<line x1="43.24" y1="297.62" x2="45.3" y2="297.62" stroke="#1a1a1a" stroke-width="1"/>
<line x1="285" y1="480.4" x2="288.5" y2="480.4" stroke="#1a1a1a" stroke-width="1"/>
<text x="290.77" y="483.8" font-size="10.3" text-anchor="start" fill="#111">0</text>
<line x1="285" y1="425.62" x2="288.5" y2="425.62" stroke="#1a1a1a" stroke-width="1"/>
<text x="290.77" y="429.02" font-size="10.3" text-anchor="start" fill="#111">20</text>
<line x1="285" y1="370.85" x2="288.5" y2="370.85" stroke="#1a1a1a" stroke-width="1"/>
<text x="290.77" y="374.25" font-size="10.3" text-anchor="start" fill="#111">40</text>
<line x1="285" y1="316.07" x2="288.5" y2="316.07" stroke="#1a1a1a" stroke-width="1"/>
<text x="290.77" y="319.47" font-size="10.3" text-anchor="start" fill="#111">60</text>
<line x1="285" y1="261.3" x2="288.5" y2="261.3" stroke="#1a1a1a" stroke-width="1"/>
<text x="290.77" y="264.7" font-size="10.3" text-anchor="start" fill="#111">80</text>
<line x1="285" y1="453.01" x2="287.06" y2="453.01" stroke="#1a1a1a" stroke-width="1"/>
<line x1="285" y1="398.24" x2="287.06" y2="398.24" stroke="#1a1a1a" stroke-width="1"/>
<line x1="285" y1="343.46" x2="287.06" y2="343.46" stroke="#1a1a1a" stroke-width="1"/>
<line x1="285" y1="288.69" x2="287.06" y2="288.69" stroke="#1a1a1a" stroke-width="1"/>
<line x1="324.1" y1="260.9" x2="324.1" y2="480.9" stroke="#1a1a1a" stroke-width="1.3"/>
<line x1="324.1" y1="480.4" x2="327.6" y2="480.4" stroke="#1a1a1a" stroke-width="1"/>
<text x="329.87" y="483.8" font-size="10.3" text-anchor="start" fill="#111">0</text>
<line x1="324.1" y1="425.7" x2="327.6" y2="425.7" stroke="#1a1a1a" stroke-width="1"/>
<text x="329.87" y="429.1" font-size="10.3" text-anchor="start" fill="#111">2</text>
<line x1="324.1" y1="371" x2="327.6" y2="371" stroke="#1a1a1a" stroke-width="1"/>
<text x="329.87" y="374.4" font-size="10.3" text-anchor="start" fill="#111">4</text>
<line x1="324.1" y1="316.3" x2="327.6" y2="316.3" stroke="#1a1a1a" stroke-width="1"/>
<text x="329.87" y="319.7" font-size="10.3" text-anchor="start" fill="#111">6</text>
<line x1="324.1" y1="261.6" x2="327.6" y2="261.6" stroke="#1a1a1a" stroke-width="1"/>
<text x="329.87" y="265" font-size="10.3" text-anchor="start" fill="#111">8</text>
<line x1="324.1" y1="453.05" x2="326.16" y2="453.05" stroke="#1a1a1a" stroke-width="1"/>
<line x1="324.1" y1="398.35" x2="326.16" y2="398.35" stroke="#1a1a1a" stroke-width="1"/>
<line x1="324.1" y1="343.65" x2="326.16" y2="343.65" stroke="#1a1a1a" stroke-width="1"/>
<line x1="324.1" y1="288.95" x2="326.16" y2="288.95" stroke="#1a1a1a" stroke-width="1"/>
<text x="345" y="370.5" font-size="10.3" text-anchor="middle" fill="#111" transform="rotate(-90 345 370.5)">DO (mg L<tspan font-size="6.59" dy="-3.91">-1</tspan><tspan dy="3.91">)</tspan></text>
<text x="23.7" y="370.9" font-size="10.3" text-anchor="middle" fill="#111" transform="rotate(-90 23.7 370.9)">Nitrogen concentration (mg L<tspan font-size="6.59" dy="-3.91">-1</tspan><tspan dy="3.91">)</tspan></text>
<text x="312.4" y="369.5" font-size="10.3" text-anchor="middle" fill="#111" transform="rotate(-90 312.4 369.5)">COD (mg L<tspan font-size="6.59" dy="-3.91">-1</tspan><tspan dy="3.91">)</tspan></text>
<text x="165.5" y="506.3" font-size="10.3" text-anchor="middle" fill="#111">Time (min)</text>
<text transform="translate(1 268.9) scale(0.93 1.1)" x="0" y="0" font-size="16" font-weight="bold" fill="#000">c</text>
<rect x="103.6" y="267.1" width="42.4" height="21.9" fill="#E2F0D9" stroke="none" stroke-width="0"/>
<text x="124.8" y="276.2" font-size="8.4" text-anchor="middle" fill="#3333FF">PN-SBR</text>
<text x="108" y="285.7" font-size="8.4" text-anchor="start" fill="#FF3333">Phase</text>
<g stroke="#FF3333" stroke-width="0.95" fill="none">
<line x1="135.6" y1="280.38" x2="141.2" y2="280.38"/>
<line x1="135.6" y1="285.22" x2="141.2" y2="285.22"/>
<line x1="136.72" y1="279.9" x2="136.72" y2="285.7"/>
<line x1="138.4" y1="279.9" x2="138.4" y2="285.7"/>
<line x1="140.08" y1="279.9" x2="140.08" y2="285.7"/>
</g>
<line x1="150.1" y1="279.9" x2="171.2" y2="279.9" stroke="#333" stroke-width="1.3"/>
<rect x="157.65" y="277.25" width="5.3" height="5.3" fill="#000000" stroke="none" stroke-width="0"/>
<text x="175.7" y="283.6" font-size="9.8" text-anchor="start" fill="#111">NH<tspan font-size="6.86" dy="2.35">4</tspan><tspan font-size="6.86" dx="-0.39" dy="-6.08">+</tspan><tspan dy="3.72">-N</tspan></text>
<line x1="150.1" y1="295.6" x2="171.2" y2="295.6" stroke="#2020FF" stroke-width="1.3"/>
<path d="M160.3 291.88L163.8 298.08L156.8 298.08Z" fill="#0000FF"/>
<text x="175.7" y="299.3" font-size="9.8" text-anchor="start" fill="#111">NO<tspan font-size="6.86" dy="2.35">3</tspan><tspan font-size="6.86" dx="-0.39" dy="-6.08">-</tspan><tspan dy="3.72">-N</tspan></text>
<line x1="150.1" y1="310.9" x2="171.2" y2="310.9" stroke="#A860C4" stroke-width="1.3"/>
<text x="175.7" y="314.6" font-size="9.8" text-anchor="start" fill="#111">DO</text>
<line x1="218.2" y1="279.9" x2="238.6" y2="279.9" stroke="#FF6AB4" stroke-width="1.3"/>
<circle cx="228.4" cy="279.9" r="3" fill="#FF2A92"/>
<text x="242.7" y="283.6" font-size="9.8" text-anchor="start" fill="#111">NO<tspan font-size="6.86" dy="2.35">2</tspan><tspan font-size="6.86" dx="-0.39" dy="-6.08">-</tspan><tspan dy="3.72">-N</tspan></text>
<rect x="216.9" y="291.5" width="21.1" height="9.2" fill="#C6C6C6" stroke="#999999" stroke-width="0.6"/>
<text x="244.7" y="299.3" font-size="9.8" text-anchor="start" fill="#111">COD</text>
<clipPath id="clipd"><rect x="409.9" y="260" width="240.9" height="217.8"/></clipPath>
<g clip-path="url(#clipd)">
<rect x="411.2" y="381.37" width="16.2" height="98.43" fill="#C6C6C6" stroke="#999999" stroke-width="0.6"/>
<rect x="420.45" y="390.08" width="16.2" height="89.72" fill="#C6C6C6" stroke="#999999" stroke-width="0.6"/>
<rect x="429.7" y="392.25" width="16.2" height="87.55" fill="#C6C6C6" stroke="#999999" stroke-width="0.6"/>
<rect x="448.21" y="388.99" width="16.2" height="90.81" fill="#C6C6C6" stroke="#999999" stroke-width="0.6"/>
<rect x="466.71" y="390.89" width="16.2" height="88.91" fill="#C6C6C6" stroke="#999999" stroke-width="0.6"/>
<rect x="522.22" y="393.61" width="16.2" height="86.19" fill="#C6C6C6" stroke="#999999" stroke-width="0.6"/>
<rect x="577.74" y="394.16" width="16.2" height="85.64" fill="#C6C6C6" stroke="#999999" stroke-width="0.6"/>
<rect x="633.25" y="402.32" width="16.2" height="77.48" fill="#C6C6C6" stroke="#999999" stroke-width="0.6"/>
<polyline points="419.3,411.6 428.55,415.08 437.8,420.96 456.31,422.56 474.81,423.9 530.32,425.24 585.84,439.14 641.35,443.95" fill="none" stroke="#262626" stroke-width="1.15" stroke-linejoin="round"/>
<rect x="416.65" y="408.95" width="5.3" height="5.3" fill="#000000" stroke="none" stroke-width="0"/>
<rect x="425.9" y="412.43" width="5.3" height="5.3" fill="#000000" stroke="none" stroke-width="0"/>
<rect x="435.15" y="418.31" width="5.3" height="5.3" fill="#000000" stroke="none" stroke-width="0"/>
<rect x="453.66" y="419.91" width="5.3" height="5.3" fill="#000000" stroke="none" stroke-width="0"/>
<rect x="472.16" y="421.25" width="5.3" height="5.3" fill="#000000" stroke="none" stroke-width="0"/>
<rect x="527.67" y="422.59" width="5.3" height="5.3" fill="#000000" stroke="none" stroke-width="0"/>
<rect x="583.19" y="436.49" width="5.3" height="5.3" fill="#000000" stroke="none" stroke-width="0"/>
<rect x="638.7" y="441.3" width="5.3" height="5.3" fill="#000000" stroke="none" stroke-width="0"/>
<polyline points="419.3,280.86 428.55,303.58 437.8,318.56 456.31,347.43 474.81,361.6 530.32,407.32 585.84,437.8 641.35,464.54" fill="none" stroke="#FF4FA5" stroke-width="1.15" stroke-linejoin="round"/>
<circle cx="419.3" cy="280.86" r="3" fill="#FF2A92"/>
<circle cx="428.55" cy="303.58" r="3" fill="#FF2A92"/>
<circle cx="437.8" cy="318.56" r="3" fill="#FF2A92"/>
<circle cx="456.31" cy="347.43" r="3" fill="#FF2A92"/>
<circle cx="474.81" cy="361.6" r="3" fill="#FF2A92"/>
<circle cx="530.32" cy="407.32" r="3" fill="#FF2A92"/>
<circle cx="585.84" cy="437.8" r="3" fill="#FF2A92"/>
<circle cx="641.35" cy="464.54" r="3" fill="#FF2A92"/>
<polyline points="419.3,438.34 428.55,443.42 437.8,453.31 456.31,463.47 474.81,463.47 530.32,473.37 585.84,473.37 641.35,473.37" fill="none" stroke="#1414FF" stroke-width="1.15" stroke-linejoin="round"/>
<polyline points="530.32,473.37 585.84,473.37 641.35,473.37" fill="none" stroke="#5555ff" stroke-width="2" stroke-linejoin="round"/>
<path d="M419.3 434.62L422.8 440.82L415.8 440.82Z" fill="#0000FF"/>
<path d="M428.55 439.7L432.05 445.9L425.05 445.9Z" fill="#0000FF"/>
<path d="M437.8 449.59L441.3 455.79L434.3 455.79Z" fill="#0000FF"/>
<path d="M456.31 459.75L459.81 465.95L452.81 465.95Z" fill="#0000FF"/>
<path d="M474.81 459.75L478.31 465.95L471.31 465.95Z" fill="#0000FF"/>
<path d="M530.32 469.65L533.82 475.85L526.82 475.85Z" fill="#0000FF"/>
<path d="M585.84 469.65L589.34 475.85L582.34 475.85Z" fill="#0000FF"/>
<path d="M641.35 469.65L644.85 475.85L637.85 475.85Z" fill="#0000FF"/>
</g>
<line x1="409.4" y1="260" x2="651.3" y2="260" stroke="#444" stroke-width="1.3"/>
<line x1="409.9" y1="260" x2="409.9" y2="478.4" stroke="#1a1a1a" stroke-width="1.3"/>
<line x1="409.3" y1="477.8" x2="651.4" y2="477.8" stroke="#1a1a1a" stroke-width="1.3"/>
<line x1="650.8" y1="259.4" x2="650.8" y2="478.4" stroke="#1a1a1a" stroke-width="1.3"/>
<line x1="419.3" y1="477.8" x2="419.3" y2="480.93" stroke="#1a1a1a" stroke-width="1"/>
<text x="419.3" y="491.1" font-size="9.3" text-anchor="middle" fill="#111">0</text>
<line x1="465.56" y1="477.8" x2="465.56" y2="480.93" stroke="#1a1a1a" stroke-width="1"/>
<text x="465.56" y="491.1" font-size="9.3" text-anchor="middle" fill="#111">50</text>
<line x1="511.82" y1="477.8" x2="511.82" y2="480.93" stroke="#1a1a1a" stroke-width="1"/>
<text x="511.82" y="491.1" font-size="9.3" text-anchor="middle" fill="#111">100</text>
<line x1="558.08" y1="477.8" x2="558.08" y2="480.93" stroke="#1a1a1a" stroke-width="1"/>
<text x="558.08" y="491.1" font-size="9.3" text-anchor="middle" fill="#111">150</text>
<line x1="604.34" y1="477.8" x2="604.34" y2="480.93" stroke="#1a1a1a" stroke-width="1"/>
<text x="604.34" y="491.1" font-size="9.3" text-anchor="middle" fill="#111">200</text>
<line x1="650.6" y1="477.8" x2="650.6" y2="480.93" stroke="#1a1a1a" stroke-width="1"/>
<text x="650.6" y="491.1" font-size="9.3" text-anchor="middle" fill="#111">250</text>
<line x1="442.43" y1="477.8" x2="442.43" y2="479.64" stroke="#1a1a1a" stroke-width="1"/>
<line x1="488.69" y1="477.8" x2="488.69" y2="479.64" stroke="#1a1a1a" stroke-width="1"/>
<line x1="534.95" y1="477.8" x2="534.95" y2="479.64" stroke="#1a1a1a" stroke-width="1"/>
<line x1="581.21" y1="477.8" x2="581.21" y2="479.64" stroke="#1a1a1a" stroke-width="1"/>
<line x1="627.47" y1="477.8" x2="627.47" y2="479.64" stroke="#1a1a1a" stroke-width="1"/>
<line x1="406.77" y1="473.9" x2="409.9" y2="473.9" stroke="#1a1a1a" stroke-width="1"/>
<text x="404.75" y="476.94" font-size="9.3" text-anchor="end" fill="#111">0</text>
<line x1="406.77" y1="420.42" x2="409.9" y2="420.42" stroke="#1a1a1a" stroke-width="1"/>
<text x="404.75" y="423.46" font-size="9.3" text-anchor="end" fill="#111">2</text>
<line x1="406.77" y1="366.95" x2="409.9" y2="366.95" stroke="#1a1a1a" stroke-width="1"/>
<text x="404.75" y="369.99" font-size="9.3" text-anchor="end" fill="#111">4</text>
<line x1="406.77" y1="313.48" x2="409.9" y2="313.48" stroke="#1a1a1a" stroke-width="1"/>
<text x="404.75" y="316.51" font-size="9.3" text-anchor="end" fill="#111">6</text>
<line x1="406.77" y1="260" x2="409.9" y2="260" stroke="#1a1a1a" stroke-width="1"/>
<text x="404.75" y="263.04" font-size="9.3" text-anchor="end" fill="#111">8</text>
<line x1="408.06" y1="447.16" x2="409.9" y2="447.16" stroke="#1a1a1a" stroke-width="1"/>
<line x1="408.06" y1="393.69" x2="409.9" y2="393.69" stroke="#1a1a1a" stroke-width="1"/>
<line x1="408.06" y1="340.21" x2="409.9" y2="340.21" stroke="#1a1a1a" stroke-width="1"/>
<line x1="408.06" y1="286.74" x2="409.9" y2="286.74" stroke="#1a1a1a" stroke-width="1"/>
<line x1="650.8" y1="477.7" x2="653.93" y2="477.7" stroke="#1a1a1a" stroke-width="1"/>
<text x="655.95" y="480.74" font-size="9.3" text-anchor="start" fill="#111">0</text>
<line x1="650.8" y1="423.27" x2="653.93" y2="423.27" stroke="#1a1a1a" stroke-width="1"/>
<text x="655.95" y="426.31" font-size="9.3" text-anchor="start" fill="#111">20</text>
<line x1="650.8" y1="368.85" x2="653.93" y2="368.85" stroke="#1a1a1a" stroke-width="1"/>
<text x="655.95" y="371.89" font-size="9.3" text-anchor="start" fill="#111">40</text>
<line x1="650.8" y1="314.42" x2="653.93" y2="314.42" stroke="#1a1a1a" stroke-width="1"/>
<text x="655.95" y="317.46" font-size="9.3" text-anchor="start" fill="#111">60</text>
<line x1="650.8" y1="260" x2="653.93" y2="260" stroke="#1a1a1a" stroke-width="1"/>
<text x="655.95" y="263.04" font-size="9.3" text-anchor="start" fill="#111">80</text>
<line x1="650.8" y1="450.49" x2="652.64" y2="450.49" stroke="#1a1a1a" stroke-width="1"/>
<line x1="650.8" y1="396.06" x2="652.64" y2="396.06" stroke="#1a1a1a" stroke-width="1"/>
<line x1="650.8" y1="341.64" x2="652.64" y2="341.64" stroke="#1a1a1a" stroke-width="1"/>
<line x1="650.8" y1="287.21" x2="652.64" y2="287.21" stroke="#1a1a1a" stroke-width="1"/>
<text x="395.1" y="369" font-size="9.45" text-anchor="middle" fill="#111" transform="rotate(-90 395.1 369)">Nitrogen concentration (mg L<tspan font-size="6.05" dy="-3.59">-1</tspan><tspan dy="3.59">)</tspan></text>
<text x="675.4" y="368.5" font-size="9.2" text-anchor="middle" fill="#111" transform="rotate(-90 675.4 368.5)">COD (mg L<tspan font-size="5.89" dy="-3.5">-1</tspan><tspan dy="3.5">)</tspan></text>
<text x="530.6" y="502.9" font-size="9.2" text-anchor="middle" fill="#111">Time (min)</text>
<text transform="translate(366.4 268.9) scale(0.93 1.1)" x="0" y="0" font-size="16" font-weight="bold" fill="#000">d</text>
<rect x="455.1" y="267.3" width="42.7" height="21.6" fill="#E2F0D9" stroke="none" stroke-width="0"/>
<text x="476.45" y="276.2" font-size="8.4" text-anchor="middle" fill="#3333FF">D-SBR</text>
<text x="459.9" y="286.1" font-size="8.4" text-anchor="start" fill="#FF3333">Phase</text>
<g stroke="#FF3333" stroke-width="0.95" fill="none">
<line x1="485.8" y1="280.78" x2="493" y2="280.78"/>
<line x1="485.8" y1="285.62" x2="493" y2="285.62"/>
<line x1="487.24" y1="280.3" x2="487.24" y2="286.1"/>
<line x1="489.4" y1="280.3" x2="489.4" y2="286.1"/>
<line x1="491.56" y1="280.3" x2="491.56" y2="286.1"/>
</g>
<line x1="511.5" y1="292.3" x2="530.5" y2="292.3" stroke="#333" stroke-width="1.3"/>
<rect x="518.65" y="289.65" width="5.3" height="5.3" fill="#000000" stroke="none" stroke-width="0"/>
<text x="534.6" y="295.7" font-size="9" text-anchor="start" fill="#111">NH<tspan font-size="6.3" dy="2.16">4</tspan><tspan font-size="6.3" dx="-0.36" dy="-5.58">+</tspan><tspan dy="3.42">-N</tspan></text>
<line x1="511.5" y1="306.2" x2="530.5" y2="306.2" stroke="#2020FF" stroke-width="1.3"/>
<path d="M521.3 302.48L524.8 308.68L517.8 308.68Z" fill="#0000FF"/>
<text x="534.6" y="309.6" font-size="9" text-anchor="start" fill="#111">NO<tspan font-size="6.3" dy="2.16">3</tspan><tspan font-size="6.3" dx="-0.36" dy="-5.58">-</tspan><tspan dy="3.42">-N</tspan></text>
<line x1="573.1" y1="292.3" x2="591.9" y2="292.3" stroke="#FF6AB4" stroke-width="1.3"/>
<circle cx="582.3" cy="292.3" r="3" fill="#FF2A92"/>
<text x="595.5" y="295.7" font-size="9" text-anchor="start" fill="#111">NO<tspan font-size="6.3" dy="2.16">2</tspan><tspan font-size="6.3" dx="-0.36" dy="-5.58">-</tspan><tspan dy="3.42">-N</tspan></text>
<rect x="572.4" y="302.5" width="18.4" height="8.2" fill="#C6C6C6" stroke="#999999" stroke-width="0.6"/>
<text x="594.9" y="309.6" font-size="9" text-anchor="start" fill="#111">COD</text>
</svg></body></html>
